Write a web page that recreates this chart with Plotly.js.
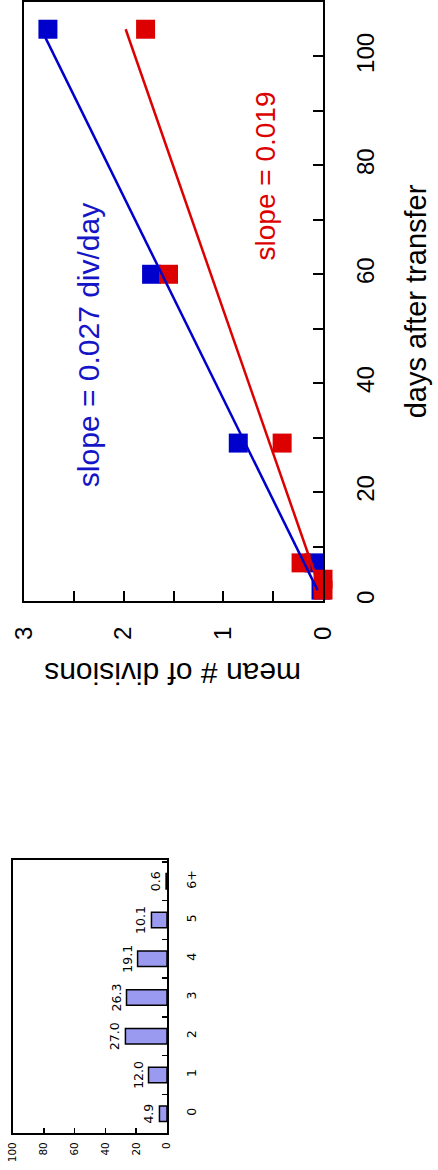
<!DOCTYPE html>
<html>
<head>
<meta charset="utf-8">
<script src="https://cdn.plot.ly/plotly-3.0.1.min.js"></script>
<style>
  html, body { margin: 0; padding: 0; background: #ffffff; }
  #chart { width: 438px; height: 1170px; }
</style>
</head>
<body>
<div id="chart"></div>
<script>
// ---- scatter data: mean # of divisions vs days after transfer ----
const blueDays = [2, 7, 29, 60, 105];
const blueMean = [0.02, 0.09, 0.85, 1.72, 2.76];
const redDays = [2, 4, 7, 29, 60, 105];
const redMean = [0.0, 0.0, 0.22, 0.41, 1.55, 1.78];
// fitted lines (end points)
const blueFitDays = [2, 104];
const blueFitMean = [0.055, 2.80];
const redFitDays = [5, 105];
const redFitMean = [0.08, 1.98];
const blueLabel = 'slope = 0.027 div/day';
const redLabel = 'slope = 0.019';
const dayTicks = [0, 10, 20, 30, 40, 50, 60, 70, 80, 90, 100];
const dayTickText = ['0', '', '20', '', '40', '', '60', '', '80', '', '100'];
const meanTicks = [0, 0.5, 1, 1.5, 2, 2.5, 3];
const meanTickText = ['0', '', '1', '', '2', '', '3'];

// ---- histogram data ----
const histCats = ['0', '1', '2', '3', '4', '5', '6+'];
const histVals = [4.9, 12.0, 27.0, 26.3, 19.1, 10.1, 0.6];
const histTicks = [0, 20, 40, 60, 80, 100];

const BLUE = '#0000cc';
const RED = '#dd0000';
const SANS = 'Liberation Sans, Arial, sans-serif';
const HFONT = 'DejaVu Sans, Verdana, sans-serif';

const traces = [
  { type: 'scatter', mode: 'markers', x: blueMean, y: blueDays, xaxis: 'x', yaxis: 'y',
    marker: { symbol: 'square', size: 19, color: BLUE }, cliponaxis: false, showlegend: false },
  { type: 'scatter', mode: 'markers', x: redMean, y: redDays, xaxis: 'x', yaxis: 'y',
    marker: { symbol: 'square', size: 19, color: RED }, cliponaxis: false, showlegend: false },
  { type: 'scatter', mode: 'lines', x: redFitMean, y: redFitDays, xaxis: 'x', yaxis: 'y',
    line: { color: RED, width: 2.5 }, showlegend: false },
  { type: 'scatter', mode: 'lines', x: blueFitMean, y: blueFitDays, xaxis: 'x', yaxis: 'y',
    line: { color: BLUE, width: 2.5 }, showlegend: false },
  { type: 'bar', orientation: 'h', x: histVals, y: histCats, xaxis: 'x2', yaxis: 'y2',
    width: 0.4,
    marker: { color: '#9a9af0', line: { color: '#000000', width: 1.5 } },
    texttemplate: '%{x:.1f}', textposition: 'outside', textangle: -90,
    constraintext: 'none', cliponaxis: false,
    textfont: { family: HFONT, size: 12.5, color: '#000000' }, showlegend: false }
];

const layout = {
  width: 438, height: 1170,
  margin: { l: 0, r: 0, t: 0, b: 0 },
  paper_bgcolor: '#ffffff', plot_bgcolor: '#ffffff',
  showlegend: false,
  font: { family: SANS, color: '#000000' },
  xaxis: {
    domain: [24 / 438, 323 / 438], anchor: 'y',
    range: [3, 0], tickmode: 'array', tickvals: meanTicks, ticktext: meanTickText,
    ticks: 'inside', ticklen: 10, tickwidth: 2, tickcolor: '#000',
    tickangle: -90, tickfont: { family: SANS, size: 24 }, ticklabelstandoff: 14,
    showline: true, mirror: true, linecolor: '#000', linewidth: 2,
    showgrid: false, zeroline: false
  },
  yaxis: {
    domain: [(1170 - 601) / 1170, (1170 - 2) / 1170], anchor: 'x', side: 'right',
    range: [0, 110], tickmode: 'array', tickvals: dayTicks, ticktext: dayTickText,
    ticks: 'inside', ticklen: 10, tickwidth: 2, tickcolor: '#000',
    tickangle: -90, tickfont: { family: SANS, size: 24 }, ticklabelstandoff: 20,
    showline: true, mirror: true, linecolor: '#000', linewidth: 2,
    showgrid: false, zeroline: false,
    title: { text: 'days after transfer', font: { family: SANS, size: 29 }, standoff: 28 }
  },
  xaxis2: {
    domain: [13 / 438, 167 / 438], anchor: 'y2',
    range: [100, 0], tickmode: 'array', tickvals: histTicks,
    ticks: 'inside', ticklen: 5, tickwidth: 1.5, tickcolor: '#000',
    tickangle: -90, tickfont: { family: HFONT, size: 10.5 }, ticklabelstandoff: 3,
    showline: true, mirror: true, linecolor: '#000', linewidth: 2,
    showgrid: false, zeroline: false
  },
  yaxis2: {
    domain: [(1170 - 1133) / 1170, (1170 - 860) / 1170], anchor: 'x2', side: 'right',
    type: 'category', range: [-0.5, 6.55], tickson: 'boundaries',
    ticks: 'inside', ticklen: 5, tickwidth: 1.5, tickcolor: '#000',
    tickangle: -90, tickfont: { family: HFONT, size: 12.5 }, ticklabelstandoff: 12,
    showline: true, mirror: true, linecolor: '#000', linewidth: 2,
    showgrid: false, zeroline: false
  },
  annotations: [
    { xref: 'x', yref: 'y', x: 2.357, y: 47, text: blueLabel, showarrow: false,
      textangle: -90, font: { family: SANS, size: 30, color: '#1515c8' } },
    { xref: 'x', yref: 'y', x: 0.58, y: 78, text: redLabel, showarrow: false,
      textangle: -90, font: { family: SANS, size: 28, color: RED } },
    { xref: 'paper', yref: 'paper', x: 173 / 438, y: (1170 - 674) / 1170,
      text: 'mean # of divisions', showarrow: false, textangle: 180,
      font: { family: SANS, size: 30, color: '#000' } }
  ]
};

Plotly.newPlot('chart', traces, layout, { staticPlot: true, displayModeBar: false });
</script>
</body>
</html>
